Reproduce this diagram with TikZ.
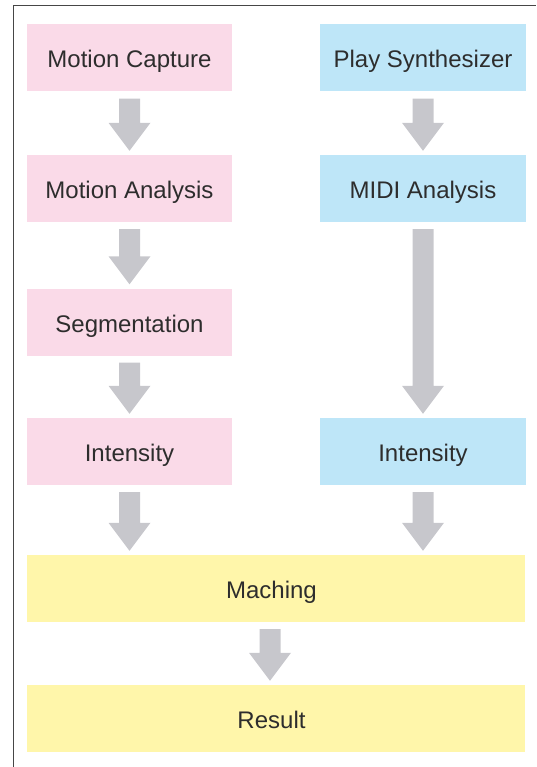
\documentclass[tikz,border=0pt]{standalone}
\usepackage{fontspec}
\setmainfont{Liberation Sans}
\usetikzlibrary{calc}

\definecolor{boxpink}{RGB}{250,218,232}
\definecolor{boxblue}{RGB}{190,230,248}
\definecolor{boxyellow}{RGB}{255,246,170}
\definecolor{arrowgray}{RGB}{199,199,204}
\definecolor{labelgray}{RGB}{45,45,45}
\definecolor{framegray}{RGB}{70,70,70}

\tikzset{
  stagebox/.style={fill=#1, draw=none, inner sep=0pt, minimum height=67pt,
    text height=20pt, text depth=0pt,
    font=\fontsize{24}{27}\selectfont, text=labelgray},
  colbox/.style={stagebox=#1, minimum width=205pt},
  widebox/.style={stagebox=boxyellow, minimum width=498pt,
    execute at begin node=\hspace*{-9pt}},
  framerule/.style={draw=framegray, line width=1.5pt}
}

% thick block arrow from the bottom of one node to the top of the next;
% the optional argument moves it sideways
\newcommand\flowarrow[3][0pt]{%
  \path (#2.south) ++(0,7) coordinate (fa-start)
        (#3.north) ++(0,-4) coordinate (fa-end);
  \fill[arrowgray] let \p1=($(fa-start)+(#1,0)$), \p2=(fa-end) in
    (\x1-10.5pt,\y1) -- (\x1+10.5pt,\y1) -- (\x1+10.5pt,\y2+28pt)
    -- (\x1+21pt,\y2+28pt) -- (\x1,\y2) -- (\x1-21pt,\y2+28pt)
    -- (\x1-10.5pt,\y2+28pt) -- cycle;
}

\begin{document}
\begin{tikzpicture}[x=1pt,y=-1pt]
  \useasboundingbox (0,0) rectangle (536,767);

  % page frame
  \draw[framerule] (13.5,767) -- (13.5,5.5) -- (536,5.5);

  % left column: motion
  \node[colbox=boxpink] (mcap) at (129.5,58) {Motion Capture};
  \node[colbox=boxpink] (mana) at (129.5,188.5) {Motion Analysis};
  \node[colbox=boxpink] (mseg) at (129.5,322) {Segmentation};
  \node[colbox=boxpink] (mint) at (129.5,451.5) {Intensity};

  % right column: sound
  \node[colbox=boxblue, minimum width=206pt] (psyn) at (423,58) {Play Synthesizer};
  \node[colbox=boxblue, minimum width=206pt] (midi) at (423,188.5) {MIDI Analysis};
  \node[colbox=boxblue, minimum width=206pt] (sint) at (423,451.5) {Intensity};

  % joint stages
  \node[widebox] (match) at (276,588.5) {Maching};
  \node[widebox] (result) at (276,718.5) {Result};

  % flow
  \flowarrow{mcap}{mana}
  \flowarrow{mana}{mseg}
  \flowarrow{mseg}{mint}
  \flowarrow{psyn}{midi}
  \flowarrow{midi}{sint}
  \flowarrow{mint}{match}
  \flowarrow{sint}{match}
  \flowarrow[-6pt]{match}{result}
\end{tikzpicture}
\end{document}
